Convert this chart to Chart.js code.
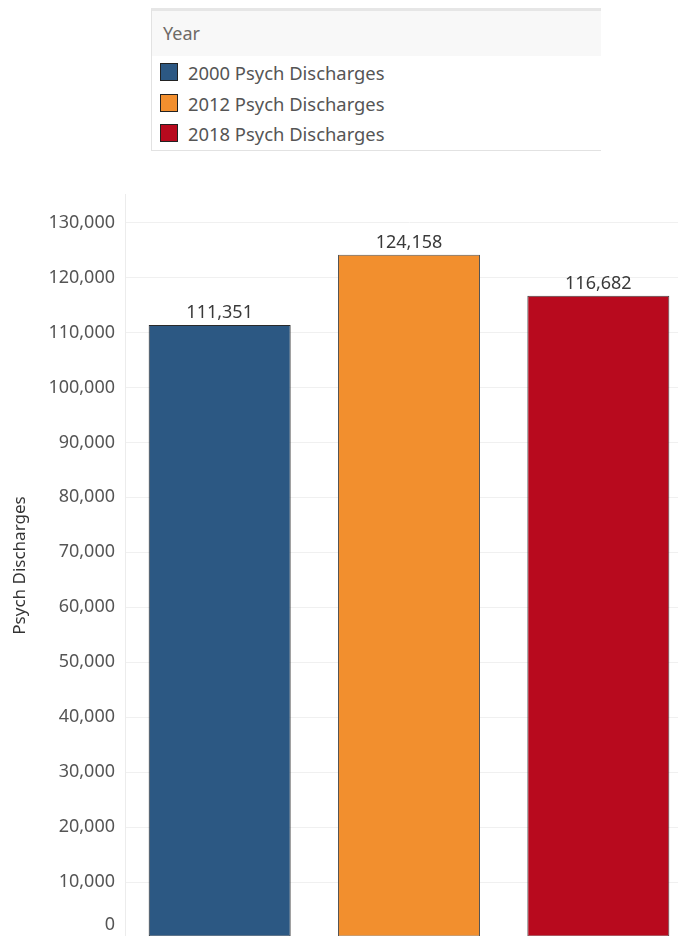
<!DOCTYPE html>
<html>
<head>
<meta charset="utf-8">
<script src="https://cdn.jsdelivr.net/npm/chart.js@4/dist/chart.umd.min.js"></script>
<style>
  html, body { margin: 0; padding: 0; background: #fff; overflow: hidden; }
  #page { position: relative; width: 678px; height: 936px; overflow: hidden; background: #fff; font-family: "Noto Sans", sans-serif; }
  #legend { position: absolute; left: 151px; top: 8px; width: 450px; height: 143px; border: 1px solid #e2e2e2; border-top: 3px solid #e6e6e6; border-right: none; box-sizing: border-box; background: #fff; }
  #legend .hdr { height: 45px; background: #f8f8f8; color: #6e6a66; font-size: 18px; line-height: 45px; padding-left: 11px; }
  #legend .item { position: relative; height: 30.5px; line-height: 30.5px; padding-left: 36px; color: #555; font-size: 18.4px; white-space: nowrap; }
  #legend .sw { position: absolute; left: 8px; top: 5px; width: 18px; height: 18px; border: 1px solid #222; box-sizing: border-box; }
  #legend .items { padding-top: 2px; }
  #wrap { position: absolute; left: 0; top: 160px; width: 700px; height: 800px; }
</style>
</head>
<body>
<div id="page">
  <div id="legend">
    <div class="hdr" id="legendTitle"></div>
    <div class="items" id="legendItems"></div>
  </div>
  <div id="wrap"><canvas id="c" width="700" height="800"></canvas></div>
</div>
<script>
const legendTitle = 'Year';
const categories = ['2000 Psych Discharges', '2012 Psych Discharges', '2018 Psych Discharges'];
const values = [111351, 124158, 116682];
const barColors = ['#2c5883', '#f28f2e', '#b80a1e'];
const borderColors = ['#2a2a2a', '#555555', '#444444'];
const yTicks = [0, 10000, 20000, 30000, 40000, 50000, 60000, 70000, 80000, 90000, 100000, 110000, 120000, 130000];
const yMax = 135200;
const yTitle = 'Psych Discharges';

// HTML legend built from the arrays
document.getElementById('legendTitle').textContent = legendTitle;
const li = document.getElementById('legendItems');
categories.forEach((c, i) => {
  const d = document.createElement('div');
  d.className = 'item';
  const s = document.createElement('span');
  s.className = 'sw';
  s.style.background = barColors[i];
  d.appendChild(s);
  d.appendChild(document.createTextNode(c));
  li.appendChild(d);
});

const fmt = v => Number(v).toLocaleString('en-US');
const FONT = '"Noto Sans", sans-serif';

const valueLabels = {
  id: 'valueLabels',
  afterDatasetsDraw(chart) {
    const ctx = chart.ctx;
    const meta = chart.getDatasetMeta(0);
    ctx.save();
    ctx.font = '18px ' + FONT;
    ctx.fillStyle = '#3a3a3a';
    ctx.textAlign = 'center';
    ctx.textBaseline = 'alphabetic';
    meta.data.forEach((bar, i) => {
      ctx.fillText(fmt(values[i]), bar.x, bar.y - 7);
    });
    ctx.restore();
  }
};

// keep the zero tick label visible inside the window (as the original does)
const zeroLabel = {
  id: 'zeroLabel',
  afterDraw(chart) {
    const y = chart.scales.y;
    const ctx = chart.ctx;
    const visibleBottom = 936 - 160;
    const py = Math.min(y.getPixelForValue(0), visibleBottom - 11.5);
    ctx.save();
    ctx.font = '18px ' + FONT;
    ctx.fillStyle = '#555';
    ctx.textAlign = 'right';
    ctx.textBaseline = 'middle';
    ctx.fillText(fmt(0), y.right - 10, py);
    ctx.restore();
  }
};

new Chart(document.getElementById('c'), {
  type: 'bar',
  data: {
    labels: categories,
    datasets: [{
      data: values,
      backgroundColor: barColors,
      borderColor: borderColors,
      borderWidth: 1,
      borderSkipped: false,
      categoryPercentage: 1,
      barPercentage: 0.75
    }]
  },
  options: {
    responsive: false,
    animation: false,
    devicePixelRatio: 1,
    layout: { padding: { top: 34, bottom: 23, left: 0, right: 7 } },
    plugins: { legend: { display: false }, tooltip: { enabled: false } },
    scales: {
      x: { display: false },
      y: {
        min: 0,
        max: yMax,
        afterBuildTicks(scale) { scale.ticks = yTicks.map(v => ({ value: v })); },
        afterFit(scale) { scale.width = 125; },
        grid: { color: '#f0f0f0', lineWidth: 1, drawTicks: false },
        border: { display: true, color: '#ececec', width: 1 },
        ticks: {
          padding: 10,
          color: '#555',
          font: { family: FONT, size: 18 },
          callback: v => (v === 0 ? '' : fmt(v))
        },
        title: {
          display: true,
          text: yTitle,
          color: '#333',
          font: { family: FONT, size: 17 },
          padding: { top: 10, bottom: 0 }
        }
      }
    }
  },
  plugins: [valueLabels, zeroLabel]
});
</script>
</body>
</html>
